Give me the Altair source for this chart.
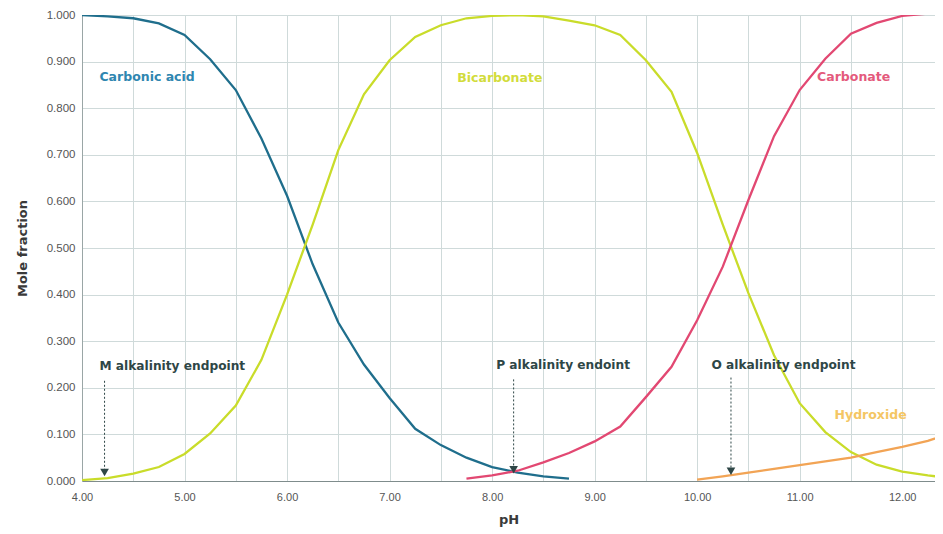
import altair as alt
import pandas as pd

# ---- data ----
ph_acid = [4.00, 4.25, 4.50, 4.75, 5.00, 5.25, 5.50, 5.75, 6.00, 6.25, 6.50, 6.75,
           7.00, 7.25, 7.50, 7.75, 8.00, 8.25, 8.50, 8.75]
carbonic_acid = [1.000, 0.997, 0.993, 0.982, 0.957, 0.905, 0.839, 0.735, 0.612, 0.465,
                 0.340, 0.250, 0.178, 0.112, 0.077, 0.050, 0.030, 0.018, 0.010, 0.005]

ph_bicarb = [4.00, 4.25, 4.50, 4.75, 5.00, 5.25, 5.50, 5.75, 6.00, 6.25, 6.50, 6.75,
             7.00, 7.25, 7.50, 7.75, 8.00, 8.25, 8.50, 8.75, 9.00, 9.25, 9.50, 9.75,
             10.00, 10.25, 10.50, 10.75, 11.00, 11.25, 11.50, 11.75, 12.00, 12.25, 12.40]
bicarbonate = [0.002, 0.006, 0.016, 0.030, 0.058, 0.102, 0.162, 0.260, 0.400, 0.550,
               0.710, 0.830, 0.903, 0.953, 0.978, 0.993, 0.998, 1.000, 0.997, 0.988,
               0.978, 0.957, 0.903, 0.835, 0.704, 0.550, 0.403, 0.270, 0.167, 0.105,
               0.062, 0.035, 0.020, 0.012, 0.008]

ph_carb = [7.75, 8.00, 8.25, 8.50, 8.75, 9.00, 9.25, 9.50, 9.75, 10.00, 10.25, 10.50,
           10.75, 11.00, 11.25, 11.50, 11.75, 12.00, 12.25, 12.40]
carbonate = [0.005, 0.012, 0.022, 0.040, 0.060, 0.085, 0.117, 0.180, 0.245, 0.345,
             0.460, 0.603, 0.740, 0.839, 0.906, 0.960, 0.983, 0.998, 1.003, 1.006]

ph_hydr = [10.00, 10.25, 10.50, 10.75, 11.00, 11.25, 11.50, 11.75, 12.00, 12.25, 12.40]
hydroxide = [0.003, 0.010, 0.018, 0.026, 0.034, 0.042, 0.050, 0.062, 0.073, 0.086, 0.097]

series_names = ["Carbonic acid", "Bicarbonate", "Carbonate", "Hydroxide"]
series_colors = ["#1f6e8c", "#c9dc2a", "#e24872", "#f2a455"]
label_colors = ["#2f86b0", "#d2dc3c", "#e45a7c", "#f4c664"]
label_ph = [4.17, 7.66, 11.17, 11.34]
label_y = [0.866, 0.864, 0.866, 0.142]

endpoint_labels = ["M alkalinity endpoint", "P alkalinity endoint", "O alkalinity endpoint"]
endpoint_text_ph = [4.17, 8.04, 10.14]
endpoint_text_y = [0.246, 0.248, 0.248]
endpoint_ph = [4.22, 8.21, 10.33]
endpoint_top = [0.215, 0.218, 0.222]
endpoint_bottom = [0.025, 0.030, 0.028]
endpoint_head = [0.018, 0.024, 0.021]

x_grid = [4.0 + 0.5 * i for i in range(17)]
y_grid = [round(0.1 * i, 1) for i in range(11)]

# ---- build tables ----
frames = []
for name, xs, ys in [("Carbonic acid", ph_acid, carbonic_acid),
                     ("Bicarbonate", ph_bicarb, bicarbonate),
                     ("Carbonate", ph_carb, carbonate),
                     ("Hydroxide", ph_hydr, hydroxide)]:
    frames.append(pd.DataFrame({"pH": xs, "frac": ys, "series": name}))
lines_df = pd.concat(frames, ignore_index=True)

labels_df = pd.DataFrame({"text": series_names, "pH": label_ph, "frac": label_y,
                          "color": label_colors})
ep_df = pd.DataFrame({"text": endpoint_labels, "tx": endpoint_text_ph, "ty": endpoint_text_y,
                      "pH": endpoint_ph, "top": endpoint_top, "bottom": endpoint_bottom,
                      "head": endpoint_head})

xscale = alt.Scale(domain=[4.0, 12.32], nice=False, zero=False)
yscale = alt.Scale(domain=[0.0, 1.0], nice=False)

x_axis = alt.Axis(values=x_grid, title="pH",
                  labelExpr="datum.value % 1 == 0 ? format(datum.value, '.2f') : ''",
                  grid=True, gridColor="#cfdada", gridWidth=1,
                  ticks=False, labelPadding=10, labelFontSize=11, labelColor="#555555",
                  labelFont="Liberation Sans", titleFont="DejaVu Sans",
                  titleFontSize=13, titleFontWeight="bold", titleColor="#3a3a3a",
                  titlePadding=11, domainColor="#7f8c8c", labelFlush=False)
y_axis = alt.Axis(values=y_grid, title="Mole fraction", format=".3f",
                  grid=True, gridColor="#cfdada", gridWidth=1,
                  ticks=False, labelPadding=7, labelFontSize=11.5, labelColor="#555555",
                  labelFont="Liberation Sans", titleFont="DejaVu Sans",
                  titleFontSize=13, titleFontWeight="bold", titleColor="#3a3a3a",
                  titlePadding=17, domainColor="#9aa6a6")

lines = alt.Chart(lines_df).mark_line(strokeWidth=2.3, clip=True).encode(
    x=alt.X("pH:Q", scale=xscale, axis=x_axis),
    y=alt.Y("frac:Q", scale=yscale, axis=y_axis),
    color=alt.Color("series:N", scale=alt.Scale(domain=series_names, range=series_colors),
                    legend=None),
    detail="series:N",
)

labels = alt.Chart(labels_df).mark_text(align="left", baseline="middle", fontSize=12.5,
                                        fontWeight="bold", font="DejaVu Sans").encode(
    x=alt.X("pH:Q", scale=xscale),
    y=alt.Y("frac:Q", scale=yscale),
    text="text:N",
    color=alt.Color("color:N", scale=None),
)

ep_text = alt.Chart(ep_df).mark_text(align="left", baseline="middle", fontSize=12.2,
                                     fontWeight="bold", font="DejaVu Sans",
                                     color="#2e4646").encode(
    x=alt.X("tx:Q", scale=xscale),
    y=alt.Y("ty:Q", scale=yscale),
    text="text:N",
)

ep_rule = alt.Chart(ep_df).mark_rule(color="#2e4646", strokeWidth=1,
                                     strokeDash=[2, 2]).encode(
    x=alt.X("pH:Q", scale=xscale),
    y=alt.Y("top:Q", scale=yscale),
    y2="bottom:Q",
)

ep_head = alt.Chart(ep_df).mark_point(shape="triangle-down", filled=True, size=75,
                                      color="#2e4646", opacity=1).encode(
    x=alt.X("pH:Q", scale=xscale),
    y=alt.Y("head:Q", scale=yscale),
)

chart = alt.layer(lines, labels, ep_rule, ep_head, ep_text).properties(
    width=853, height=466,
    padding={"left": 74, "top": 7, "right": 0, "bottom": 50},
    autosize="none",
    background="#ffffff",
).configure_view(stroke=None)

chart.save("out.html", embed_options={"renderer": "svg", "actions": False})
